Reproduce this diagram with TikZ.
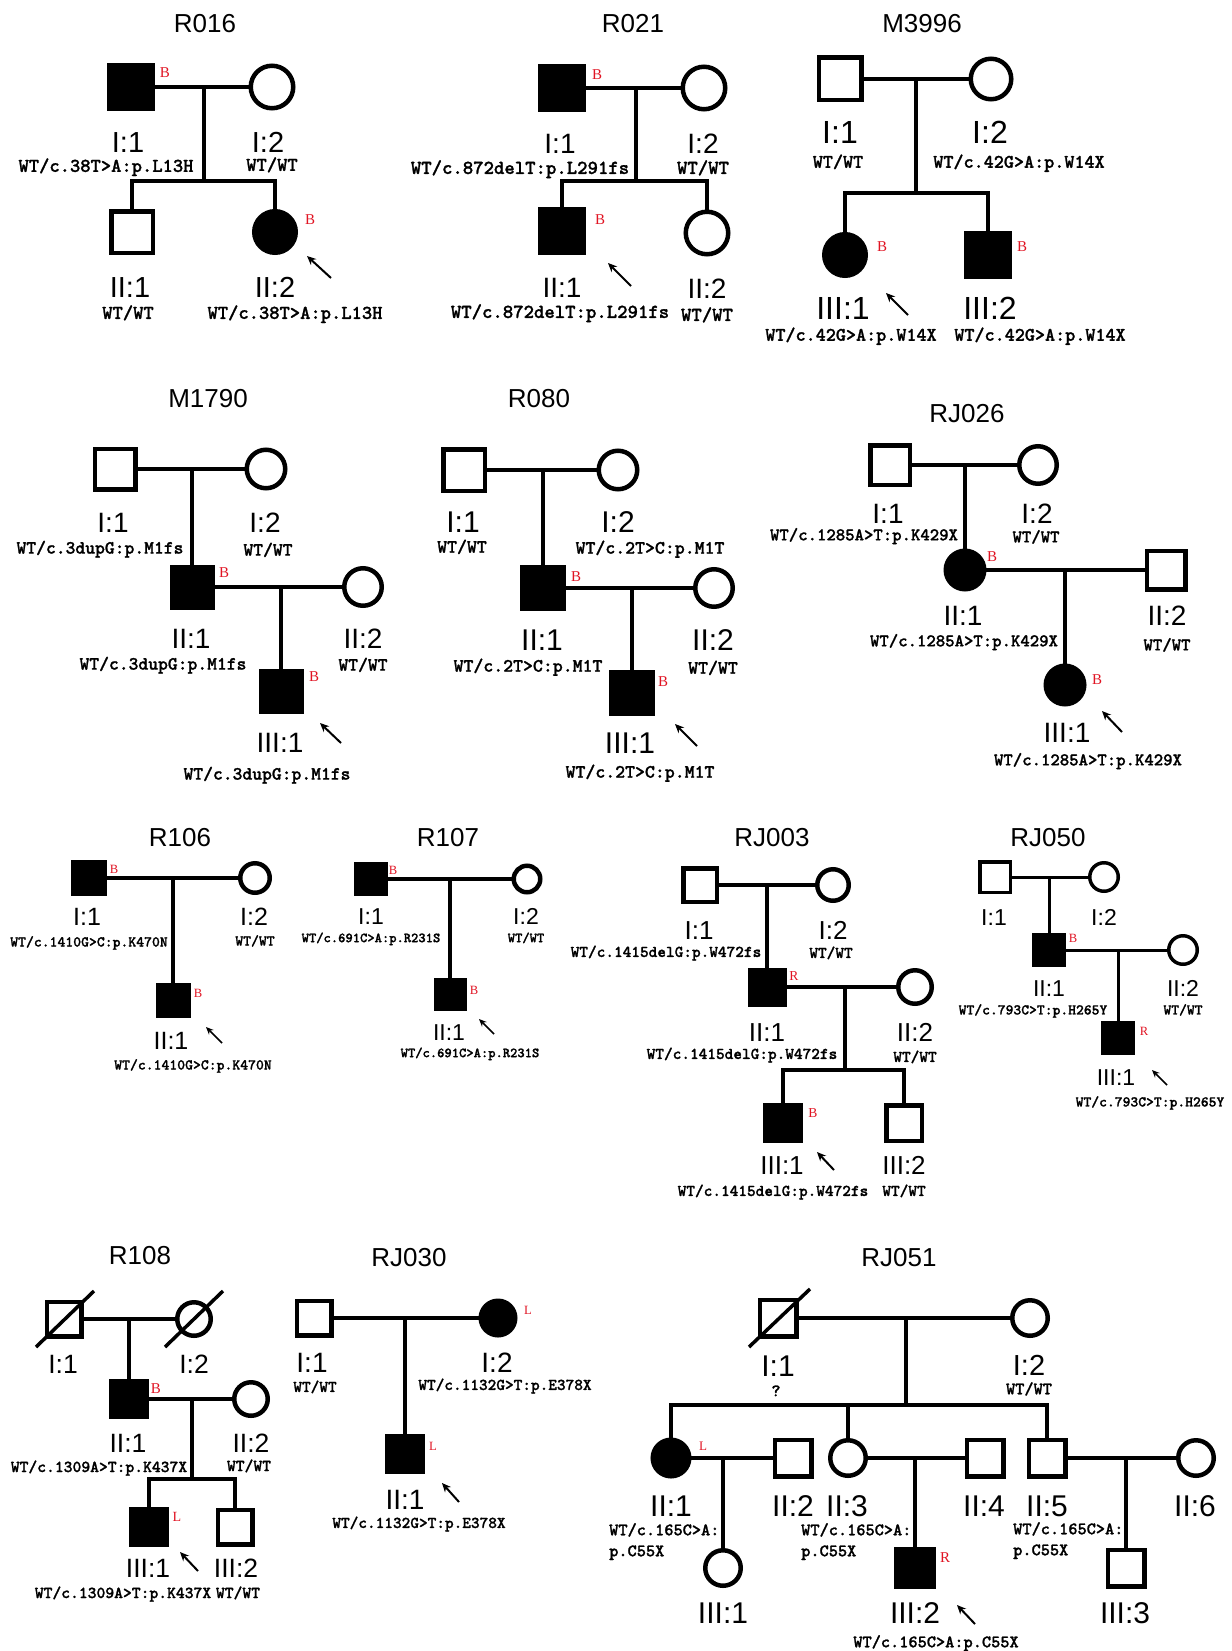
\documentclass[tikz,border=0pt]{standalone}
\usepackage{fontspec}
\usetikzlibrary{arrows.meta}
\newfontfamily\lbf{Liberation Sans}
\newfontfamily\rdf{Liberation Serif}
\newfontfamily\gtf{lmmonolt10-bold}[Extension=.otf, FakeBold=1.2]
\definecolor{lblred}{RGB}{225,20,35}
\tikzset{
  sym/.style={draw=black, inner sep=0pt, outer sep=0pt, line width=4.5pt},
  M/.style={sym, rectangle, fill=white, minimum size=#1pt},
  MA/.style={sym, rectangle, fill=black, minimum size=#1pt},
  F/.style={sym, circle, fill=white, minimum size=#1pt},
  FA/.style={sym, circle, fill=black, minimum size=#1pt},
  con/.style={line width=4pt},
  dec/.style={line width=3.5pt},
  arr/.style={line width=2pt, -{Stealth[length=9pt,width=8pt]}},
  arrs/.style={line width=1.7pt, -{Stealth[length=7.5pt,width=6.5pt]}},
  lab/.style={font=\lbf\fontsize{#1pt}{#1pt}\selectfont, inner sep=0pt, anchor=base, yshift={-0.358*#1pt}},
  ttl/.style={lab=26},
  gt/.style={font=\gtf\fontsize{#1pt}{#1pt}\selectfont, inner sep=0pt, anchor=base, yshift={-0.3*#1pt}},
  gtw/.style={gt=#1, anchor=base west},
  rl/.style={text=lblred, font=\rdf\fontsize{#1pt}{#1pt}\selectfont, inner sep=0pt, anchor=base, yshift={-0.331*#1pt}},
}
\begin{document}
\begin{tikzpicture}[x=1pt,y=-1pt]
\fill[white] (0,0) rectangle (1231,1651);
\useasboundingbox (0,0) rectangle (1231,1651);

% ================= R016
\node[ttl] (aT) at (205,23) {R016};
\node[MA=43.5] (a1) at (131,87) {};
\node[F=42.5] (a2) at (272,87) {};
\node[M=41.5] (a21) at (132,232) {};
\node[FA=41.5] (a22) at (275,232) {};
\coordinate (am) at (204,87);
\coordinate (as) at (204,181);
\draw[con] (a1.east) -- (a2.west);
\draw[con] (am) -- (as);
\draw[con] (a21.north) |- (as) -| (a22.north);
\node[rl=15] (aR1) at (165,73) {B};
\node[rl=15] (aR2) at (310,220) {B};
\coordinate (aA1) at (331,278); \coordinate (aA2) at (307,256);
\draw[arr] (aA1) -- (aA2);
\node[lab=29] (aL1) at (128,142) {I:1};
\node[lab=29] (aL2) at (268,142) {I:2};
\node[lab=29] (aL21) at (130,287) {II:1};
\node[lab=29] (aL22) at (275,287) {II:2};
\node[gt=19.6] (aG1) at (106,166) {WT/c.38T>A:p.L13H};
\node[gt=19.6] (aG2) at (272,165) {WT/WT};
\node[gt=19.6] (aG21) at (128,313) {WT/WT};
\node[gt=19.6] (aG22) at (295,313) {WT/c.38T>A:p.L13H};

% ================= R021
\node[ttl] (bT) at (633,23) {R021};
\node[MA=43.5] (b1) at (562,88) {};
\node[F=42.5] (b2) at (704,88) {};
\node[MA=43.5] (b21) at (562,231) {};
\node[F=42.5] (b22) at (707,233) {};
\coordinate (bm) at (636,88);
\coordinate (bs) at (636,181);
\draw[con] (b1.east) -- (b2.west);
\draw[con] (bm) -- (bs);
\draw[con] (b21.north) |- (bs) -| (b22.north);
\node[rl=15] (bR1) at (597,75) {B};
\node[rl=15] (bR2) at (600,220) {B};
\coordinate (bA1) at (631,286); \coordinate (bA2) at (608,263);
\draw[arr] (bA1) -- (bA2);
\node[lab=28] (bL1) at (560,143) {I:1};
\node[lab=28] (bL2) at (703,143) {I:2};
\node[lab=28] (bL21) at (562,287) {II:1};
\node[lab=28] (bL22) at (707,288) {II:2};
\node[gt=19.8] (bG1) at (520,168) {WT/c.872delT:p.L291fs};
\node[gt=19.8] (bG2) at (703,168) {WT/WT};
\node[gt=19.8] (bG21) at (560,312) {WT/c.872delT:p.L291fs};
\node[gt=19.8] (bG22) at (707,315) {WT/WT};

% ================= M3996
\node[ttl] (cT) at (922,23) {M3996};
\node[M=42.5] (c1) at (840,79) {};
\node[F=40.5] (c2) at (991,79) {};
\node[FA=41.5] (c31) at (845,255) {};
\node[MA=43.5] (c32) at (988,255) {};
\coordinate (cm) at (916,79);
\coordinate (cs) at (916,193);
\draw[con] (c1.east) -- (c2.west);
\draw[con] (cm) -- (cs);
\draw[con] (c31.north) |- (cs) -| (c32.north);
\node[rl=15] (cR1) at (882,247) {B};
\node[rl=15] (cR2) at (1022,247) {B};
\coordinate (cA1) at (908,315); \coordinate (cA2) at (886,293);
\draw[arr] (cA1) -- (cA2);
\node[lab=32] (cL1) at (840,132) {I:1};
\node[lab=32] (cL2) at (990,132) {I:2};
\node[lab=32] (cL31) at (843,308) {III:1};
\node[lab=32] (cL32) at (990,308) {III:2};
\node[gt=19.2] (cG1) at (838,162) {WT/WT};
\node[gt=19.2] (cG2) at (1019,162) {WT/c.42G>A:p.W14X};
\node[gt=19.2] (cG31) at (851,335) {WT/c.42G>A:p.W14X};
\node[gt=19.2] (cG32) at (1040,335) {WT/c.42G>A:p.W14X};

% ================= M1790
\node[ttl] (dT) at (208,398) {M1790};
\node[M=40.5] (d1) at (115,469) {};
\node[F=38.5] (d2) at (266,469) {};
\node[MA=40.5] (d21) at (192,587) {};
\node[F=37.5] (d22) at (363,587) {};
\node[MA=40.5] (d31) at (281,691) {};
\coordinate (dm1) at (192,469);
\coordinate (dm2) at (281,587);
\draw[con] (d1.east) -- (d2.west);
\draw[con] (dm1) -- (d21.north);
\draw[con] (d21.east) -- (d22.west);
\draw[con] (dm2) -- (d31.north);
\node[rl=15] (dR1) at (224,573) {B};
\node[rl=15] (dR2) at (314,677) {B};
\coordinate (dA1) at (341,743); \coordinate (dA2) at (320,723);
\draw[arr] (dA1) -- (dA2);
\node[lab=28] (dL1) at (113,522) {I:1};
\node[lab=28] (dL2) at (265,522) {I:2};
\node[lab=28] (dL21) at (191,638) {II:1};
\node[lab=28] (dL22) at (363,638) {II:2};
\node[lab=28] (dL31) at (280,742) {III:1};
\node[gt=18.7] (dG1) at (100,548) {WT/c.3dupG:p.M1fs};
\node[gt=18.7] (dG2) at (268,550) {WT/WT};
\node[gt=18.7] (dG21) at (163,664) {WT/c.3dupG:p.M1fs};
\node[gt=18.7] (dG22) at (363,665) {WT/WT};
\node[gt=18.7] (dG31) at (267,774) {WT/c.3dupG:p.M1fs};

% ================= R080
\node[ttl] (eT) at (539,398) {R080};
\node[M=41.5] (e1) at (464,470) {};
\node[F=38.5] (e2) at (618,470) {};
\node[MA=41.5] (e21) at (543,588) {};
\node[F=37.5] (e22) at (714,588) {};
\node[MA=41.5] (e31) at (632,693) {};
\coordinate (em1) at (543,470);
\coordinate (em2) at (632,588);
\draw[con] (e1.east) -- (e2.west);
\draw[con] (em1) -- (e21.north);
\draw[con] (e21.east) -- (e22.west);
\draw[con] (em2) -- (e31.north);
\node[rl=15] (eR1) at (576,577) {B};
\node[rl=15] (eR2) at (663,682) {B};
\coordinate (eA1) at (697,746); \coordinate (eA2) at (675,724);
\draw[arr] (eA1) -- (eA2);
\node[lab=30] (eL1) at (463,522) {I:1};
\node[lab=30] (eL2) at (618,522) {I:2};
\node[lab=30] (eL21) at (542,640) {II:1};
\node[lab=30] (eL22) at (713,640) {II:2};
\node[lab=30] (eL31) at (630,743) {III:1};
\node[gt=18.9] (eG1) at (462,547) {WT/WT};
\node[gt=18.9] (eG2) at (650,548) {WT/c.2T>C:p.M1T};
\node[gt=18.9] (eG21) at (528,666) {WT/c.2T>C:p.M1T};
\node[gt=18.9] (eG22) at (713,668) {WT/WT};
\node[gt=18.9] (eG31) at (640,772) {WT/c.2T>C:p.M1T};

% ================= RJ026
\node[ttl] (fT) at (967,413) {RJ026};
\node[M=39.5] (f1) at (890,465) {};
\node[F=37.5] (f2) at (1038,465) {};
\node[FA=38.5] (f21) at (965,570) {};
\node[M=38.5] (f22) at (1166,570) {};
\node[FA=38.5] (f31) at (1065,685) {};
\coordinate (fm1) at (965,465);
\coordinate (fm2) at (1065,570);
\draw[con] (f1.east) -- (f2.west);
\draw[con] (fm1) -- (f21.north);
\draw[con] (f21.east) -- (f22.west);
\draw[con] (fm2) -- (f31.north);
\node[rl=15] (fR1) at (992,557) {B};
\node[rl=15] (fR2) at (1097,680) {B};
\coordinate (fA1) at (1122,732); \coordinate (fA2) at (1102,711);
\draw[arr] (fA1) -- (fA2);
\node[lab=28] (fL1) at (888,513) {I:1};
\node[lab=28] (fL2) at (1037,513) {I:2};
\node[lab=28] (fL21) at (963,615) {II:1};
\node[lab=28] (fL22) at (1167,615) {II:2};
\node[lab=28] (fL31) at (1067,732) {III:1};
\node[gt=17.9] (fG1) at (864,535) {WT/c.1285A>T:p.K429X};
\node[gt=17.9] (fG2) at (1036,537) {WT/WT};
\node[gt=17.9] (fG21) at (964,641) {WT/c.1285A>T:p.K429X};
\node[gt=17.9] (fG22) at (1167,645) {WT/WT};
\node[gt=17.9] (fG31) at (1088,760) {WT/c.1285A>T:p.K429X};

% ================= R106
\begin{scope}[con/.append style={line width=3.3pt}]
\node[ttl] (gT) at (180,837) {R106};
\node[MA=31.5] (g1) at (89,878) {};
\node[F=29.5] (g2) at (255,878) {};
\node[MA=30.5] (g21) at (173,1000) {};
\coordinate (gm) at (173,878);
\draw[con] (g1.east) -- (g2.west);
\draw[con] (gm) -- (g21.north);
\node[rl=12.6] (gR1) at (114,869) {B};
\node[rl=12.6] (gR2) at (198,993) {B};
\coordinate (gA1) at (222,1043); \coordinate (gA2) at (206,1027);
\draw[arrs] (gA1) -- (gA2);
\node[lab=25] (gL1) at (87,917) {I:1};
\node[lab=25] (gL2) at (254,917) {I:2};
\node[lab=25] (gL21) at (171,1041) {II:1};
\node[gt=15] (gG1) at (89,942) {WT/c.1410G>C:p.K470N};
\node[gt=15] (gG2) at (255,941) {WT/WT};
\node[gt=15] (gG21) at (193,1065) {WT/c.1410G>C:p.K470N};
\end{scope}

% ================= R107
\begin{scope}[con/.append style={line width=3.3pt}]
\node[ttl] (hT) at (448,837) {R107};
\node[MA=29.5] (h1) at (371,879) {};
\node[F=26.5] (h2) at (527,879) {};
\node[MA=28.5] (h21) at (450,994) {};
\coordinate (hm) at (450,879);
\draw[con] (h1.east) -- (h2.west);
\draw[con] (hm) -- (h21.north);
\node[rl=12.6] (hR1) at (393,870) {B};
\node[rl=12.6] (hR2) at (474,990) {B};
\coordinate (hA1) at (494,1034); \coordinate (hA2) at (479,1019);
\draw[arrs] (hA1) -- (hA2);
\node[lab=23] (hL1) at (371,916) {I:1};
\node[lab=23] (hL2) at (526,916) {I:2};
\node[lab=23] (hL21) at (449,1032) {II:1};
\node[gt=13.9] (hG1) at (371,938) {WT/c.691C>A:p.R231S};
\node[gt=13.9] (hG2) at (526,938) {WT/WT};
\node[gt=13.9] (hG21) at (470,1053) {WT/c.691C>A:p.R231S};
\end{scope}

% ================= RJ003
\begin{scope}[con/.append style={line width=3.5pt}]
\node[ttl] (iT) at (772,837) {RJ003};
\node[M=33.5] (i1) at (700,885) {};
\node[F=31.5] (i2) at (833,885) {};
\node[MA=34.5] (i21) at (767,987) {};
\node[F=33.5] (i22) at (915,987) {};
\node[MA=35.5] (i31) at (783,1123) {};
\node[M=35.5] (i32) at (904,1123) {};
\coordinate (im1) at (767,885);
\coordinate (im2) at (845,987);
\coordinate (is) at (845,1070);
\draw[con] (i1.east) -- (i2.west);
\draw[con] (im1) -- (i21.north);
\draw[con] (i21.east) -- (i22.west);
\draw[con] (im2) -- (is);
\draw[con] (i31.north) |- (is) -| (i32.north);
\node[rl=13.6] (iR1) at (794,976) {R};
\node[rl=13.6] (iR2) at (813,1113) {B};
\coordinate (iA1) at (834,1170); \coordinate (iA2) at (817,1152);
\draw[arr] (iA1) -- (iA2);
\node[lab=26] (iL1) at (699,930) {I:1};
\node[lab=26] (iL2) at (833,930) {I:2};
\node[lab=26] (iL21) at (767,1032) {II:1};
\node[lab=26] (iL22) at (915,1032) {II:2};
\node[lab=26] (iL31) at (782,1165) {III:1};
\node[lab=26] (iL32) at (904,1165) {III:2};
\node[gt=16.5] (iG1) at (666,952) {WT/c.1415delG:p.W472fs};
\node[gt=16.5] (iG2) at (831,953) {WT/WT};
\node[gt=16.5] (iG21) at (742,1054) {WT/c.1415delG:p.W472fs};
\node[gt=16.5] (iG22) at (915,1057) {WT/WT};
\node[gt=16.5] (iG31) at (773,1191) {WT/c.1415delG:p.W472fs};
\node[gt=16.5] (iG32) at (904,1191) {WT/WT};
\end{scope}

% ================= RJ050
\begin{scope}[con/.append style={line width=3pt}, sym/.append style={line width=3.5pt}]
\node[ttl] (jT) at (1048,837) {RJ050};
\node[M=30.5] (j1) at (995,877) {};
\node[F=28.5] (j2) at (1104,877) {};
\node[MA=30.5] (j21) at (1049,950) {};
\node[F=28.5] (j22) at (1183,950) {};
\node[MA=30.5] (j31) at (1118,1038) {};
\coordinate (jm1) at (1049,877);
\coordinate (jm2) at (1118,950);
\draw[con] (j1.east) -- (j2.west);
\draw[con] (jm1) -- (j21.north);
\draw[con] (j21.east) -- (j22.west);
\draw[con] (jm2) -- (j31.north);
\node[rl=12.6] (jR1) at (1073,938) {B};
\node[rl=12.6] (jR2) at (1144,1031) {R};
\coordinate (jA1) at (1167,1085); \coordinate (jA2) at (1152,1070);
\draw[arrs] (jA1) -- (jA2);
\node[lab=23] (jL1) at (994,917) {I:1};
\node[lab=23] (jL2) at (1104,917) {I:2};
\node[lab=23] (jL21) at (1049,988) {II:1};
\node[lab=23] (jL22) at (1183,988) {II:2};
\node[lab=23] (jL31) at (1116,1077) {III:1};
\node[gt=14.9] (jG21) at (1033,1010) {WT/c.793C>T:p.H265Y};
\node[gt=14.9] (jG22) at (1183,1010) {WT/WT};
\node[gt=14.9] (jG31) at (1150,1102) {WT/c.793C>T:p.H265Y};
\end{scope}

% ================= R108
\begin{scope}[con/.append style={line width=3.5pt}]
\node[ttl] (kT) at (140,1255) {R108};
\node[M=34.5] (k1) at (64,1319) {};
\node[F=33.5] (k2) at (194,1319) {};
\node[MA=35.5] (k21) at (129,1399) {};
\node[F=33.5] (k22) at (251,1399) {};
\node[MA=35.5] (k31) at (149,1527) {};
\node[M=34.5] (k32) at (235,1527) {};
\coordinate (km1) at (129,1319);
\coordinate (km2) at (192,1399);
\coordinate (ks) at (192,1479);
\coordinate (kd1a) at (36,1347); \coordinate (kd1b) at (94,1291);
\coordinate (kd2a) at (165,1347); \coordinate (kd2b) at (223,1291);
\draw[dec] (kd1a) -- (kd1b);
\draw[dec] (kd2a) -- (kd2b);
\draw[con] (k1.east) -- (k2.west);
\draw[con] (km1) -- (k21.north);
\draw[con] (k21.east) -- (k22.west);
\draw[con] (km2) -- (ks);
\draw[con] (k31.north) |- (ks) -| (k32.north);
\node[rl=15] (kR1) at (156,1389) {B};
\node[rl=14] (kR2) at (177,1517) {L};
\coordinate (kA1) at (198,1571); \coordinate (kA2) at (180,1552);
\draw[arr] (kA1) -- (kA2);
\node[lab=26.5] (kL1) at (63,1364) {I:1};
\node[lab=26.5] (kL2) at (194,1364) {I:2};
\node[lab=26.5] (kL21) at (128,1443) {II:1};
\node[lab=26.5] (kL22) at (251,1443) {II:2};
\node[lab=26.5] (kL31) at (148,1568) {III:1};
\node[lab=26.5] (kL32) at (236,1568) {III:2};
\node[gt=16.8] (kG21) at (99,1467) {WT/c.1309A>T:p.K437X};
\node[gt=16.8] (kG22) at (249,1466) {WT/WT};
\node[gt=16.8] (kG31) at (123,1593) {WT/c.1309A>T:p.K437X};
\node[gt=16.8] (kG32) at (238,1593) {WT/WT};
\end{scope}

% ================= RJ030
\begin{scope}[con/.append style={line width=3.5pt}]
\node[ttl] (lT) at (409,1257) {RJ030};
\node[M=34.5] (l1) at (314,1318) {};
\node[FA=34.5] (l2) at (498,1318) {};
\node[MA=35.5] (l21) at (405,1454) {};
\coordinate (lm) at (405,1318);
\draw[con] (l1.east) -- (l2.west);
\draw[con] (lm) -- (l21.north);
\node[rl=12.6] (lR1) at (528,1310) {L};
\node[rl=12.6] (lR2) at (433,1446) {L};
\coordinate (lA1) at (459,1502); \coordinate (lA2) at (442,1483);
\draw[arr] (lA1) -- (lA2);
\node[lab=28] (lL1) at (312,1362) {I:1};
\node[lab=28] (lL2) at (497,1362) {I:2};
\node[lab=28] (lL21) at (405,1499) {II:1};
\node[gt=16.5] (lG1) at (315,1387) {WT/WT};
\node[gt=16.5] (lG2) at (505,1385) {WT/c.1132G>T:p.E378X};
\node[gt=16.5] (lG21) at (419,1523) {WT/c.1132G>T:p.E378X};
\end{scope}

% ================= RJ051
\node[ttl] (mT) at (899,1257) {RJ051};
\node[M=36.5] (m1) at (778,1318) {};
\node[F=35.5] (m2) at (1030,1318) {};
\node[FA=36.5] (m21) at (671,1458) {};
\node[M=36.5] (m22) at (793,1458) {};
\node[F=35.5] (m23) at (848,1458) {};
\node[M=36.5] (m24) at (985,1458) {};
\node[M=36.5] (m25) at (1047,1458) {};
\node[F=35.5] (m26) at (1196,1458) {};
\node[F=35.5] (m31) at (723,1568) {};
\node[MA=37.5] (m32) at (915,1568) {};
\node[M=36.5] (m33) at (1126,1568) {};
\coordinate (mm) at (906,1318);
\coordinate (ms) at (906,1405);
\coordinate (mmA) at (723,1458);
\coordinate (mmB) at (915,1458);
\coordinate (mmC) at (1126,1458);
\coordinate (md1a) at (749,1347); \coordinate (md1b) at (810,1289);
\draw[dec] (md1a) -- (md1b);
\draw[con] (m1.east) -- (m2.west);
\draw[con] (mm) -- (ms);
\draw[con] (m21.north) |- (ms) -| (m25.north);
\draw[con] (m23.north) -- (m23.north |- ms);
\draw[con] (m21.east) -- (m22.west);
\draw[con] (m23.east) -- (m24.west);
\draw[con] (m25.east) -- (m26.west);
\draw[con] (mmA) -- (m31.north);
\draw[con] (mmB) -- (m32.north);
\draw[con] (mmC) -- (m33.north);
\node[rl=13] (mR1) at (703,1446) {L};
\node[rl=15] (mR2) at (945,1558) {R};
\coordinate (mA1) at (975,1624); \coordinate (mA2) at (957,1605);
\draw[arr] (mA1) -- (mA2);
\node[lab=30] (mL1) at (778,1366) {I:1};
\node[lab=29] (mL2) at (1029,1365) {I:2};
\node[lab=30] (mL21) at (671,1506) {II:1};
\node[lab=30] (mL22) at (793,1506) {II:2};
\node[lab=30] (mL23) at (847,1506) {II:3};
\node[lab=30] (mL24) at (984,1506) {II:4};
\node[lab=30] (mL25) at (1047,1506) {II:5};
\node[lab=30] (mL26) at (1195,1506) {II:6};
\node[lab=30] (mL31) at (723,1613) {III:1};
\node[lab=30] (mL32) at (915,1613) {III:2};
\node[lab=30] (mL33) at (1125,1613) {III:3};
\node[gt=17.5] (mG1) at (776,1391) {?};
\node[gt=17.5] (mG2) at (1029,1389) {WT/WT};
\node[gtw=17.5] (mG21a) at (609,1530) {WT/c.165C>A:};
\node[gtw=17.5] (mG21b) at (609,1551) {p.C55X};
\node[gtw=17.5] (mG23a) at (801,1530) {WT/c.165C>A:};
\node[gtw=17.5] (mG23b) at (801,1551) {p.C55X};
\node[gtw=17.5] (mG25a) at (1013,1529) {WT/c.165C>A:};
\node[gtw=17.5] (mG25b) at (1013,1550) {p.C55X};
\node[gt=17.5] (mG32) at (936,1642) {WT/c.165C>A:p.C55X};
\end{tikzpicture}
\end{document}
